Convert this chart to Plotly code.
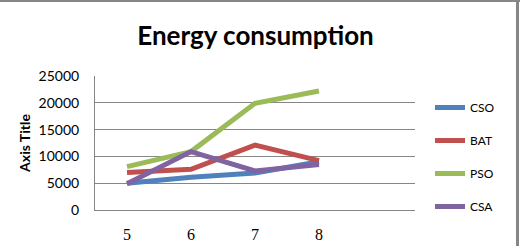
import plotly.graph_objects as go

x_vals = [5, 6, 7, 8]
cso = [5000, 6100, 6900, 9000]
bat = [7000, 7600, 12100, 9200]
pso = [8100, 10900, 19900, 22200]
csa = [4900, 10900, 7300, 8500]
names = ["CSO", "BAT", "PSO", "CSA"]
colors = ["#4F81BD", "#C0504D", "#9BBB59", "#8064A2"]
y_ticks = [0, 5000, 10000, 15000, 20000, 25000]

W, H = 520, 246
L, R, T, B = 95, 105, 76, 36
pw, ph = W - L - R, H - T - B

fig = go.Figure()
for i, (nm, ys) in enumerate(zip(names, [cso, bat, pso, csa])):
    fig.add_trace(go.Scatter(
        x=x_vals, y=ys, name=nm, mode="lines",
        line=dict(color=colors[i], width=5),
        legendgroup=nm,
    ))

def px_to_paper_x(px):
    return (px - L) / pw

def px_to_paper_y(py):
    return 1 - (py - T) / ph

fig.update_layout(
    width=W, height=H,
    margin=dict(l=L, r=R, t=T, b=B, pad=0, autoexpand=False),
    paper_bgcolor="white", plot_bgcolor="white",
    title=dict(text="<b>Energy consumption</b>", x=255.5 / W, xanchor="center",
               y=1 - 36 / H, yanchor="middle", yref="container",
               font=dict(family="Lato", size=26, color="black")),
    xaxis=dict(range=[4.5, 9.5], tickvals=x_vals, ticktext=[str(v) for v in x_vals],
               showgrid=False, zeroline=False, showline=True, linecolor="#868686",
               linewidth=1, ticks="", ticklabelstandoff=10, automargin=False,
               tickfont=dict(family="Liberation Serif", size=16, color="black")),
    yaxis=dict(range=[0, 25000], tickvals=y_ticks, ticktext=[str(v) for v in y_ticks],
               showgrid=True, gridcolor="#868686",
               gridwidth=1, zeroline=False, showline=True, linecolor="#868686",
               linewidth=1, ticks="", ticklabelstandoff=12, automargin=False,
               tickfont=dict(family="Lato", size=14, color="black"),
               title=dict(text="<b>Axis Title</b>", standoff=4,
                          font=dict(family="Lato", size=14, color="black"))),
    legend=dict(x=px_to_paper_x(430), xanchor="left", y=px_to_paper_y(157), yanchor="middle",
                font=dict(family="Lato", size=12, color="black"),
                tracegroupgap=14, bgcolor="rgba(0,0,0,0)", itemwidth=30, maxheight=1.0),
    showlegend=True,
    shapes=[
        dict(type="line", xref="paper", yref="paper",
             x0=px_to_paper_x(0), x1=px_to_paper_x(W), y0=px_to_paper_y(1), y1=px_to_paper_y(1),
             line=dict(color="#868686", width=2)),
        dict(type="line", xref="paper", yref="paper",
             x0=px_to_paper_x(517.5), x1=px_to_paper_x(517.5), y0=px_to_paper_y(0), y1=px_to_paper_y(H),
             line=dict(color="#868686", width=3)),
    ],
)

fig.write_html("out.html")
